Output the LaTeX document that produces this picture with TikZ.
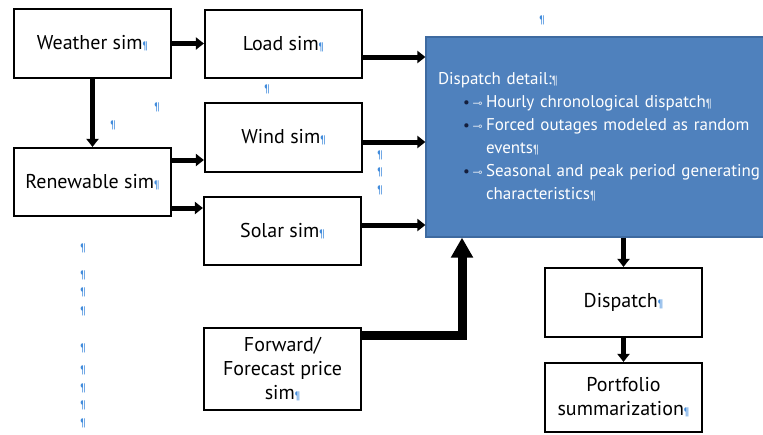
\documentclass[tikz,border=0pt]{standalone}
\usepackage{fontspec}
\setmainfont{PT Sans}
\newfontfamily\symfont{DejaVu Sans}
\usetikzlibrary{arrows.meta}
\definecolor{pilcrow}{RGB}{66,140,220}
\definecolor{panel}{RGB}{79,129,189}
\definecolor{panelline}{RGB}{62,106,160}
\definecolor{bulletdark}{RGB}{20,30,60}
\newcommand\pmark{\textcolor{pilcrow}{\fontsize{11}{11}\selectfont ¶}}
\newcommand\wmark{\textcolor{white!80!panel}{\fontsize{12}{12}\selectfont ¶}}
\newcommand\itemmark{\hspace*{25pt}\makebox[23pt][l]{\textcolor{bulletdark}{\fontsize{15}{15}\selectfont •}\,\textcolor{white!75!panel}{\symfont\fontsize{12}{12}\selectfont ⊸}}}
\begin{document}
\begin{tikzpicture}[x=1pt,y=-1pt,
  simbox/.style={draw, line width=2.2pt, fill=white, inner sep=0pt, align=center,
    font=\fontsize{20}{24}\selectfont},
  conn/.style={line width=5pt, -{Triangle[length=8pt,width=12pt]}},
  bigconn/.style={line width=9pt, -{Triangle[length=20pt,width=21pt]}},
  freemark/.style={inner sep=0pt, text=pilcrow, font=\fontsize{11}{11}\selectfont}]
\useasboundingbox (0,0) rectangle (763,434);

% simulation boxes
\node[simbox, minimum width=157, minimum height=69] (weather) at (92.5,43.5) {Weather sim\pmark};
\node[simbox, minimum width=157, minimum height=68] (load) at (283.5,44) {Load sim\pmark};
\node[simbox, minimum width=157, minimum height=69] (wind) at (283.5,137.5) {Wind sim\pmark};
\node[simbox, minimum width=157, minimum height=68] (renew) at (92.5,182) {Renewable sim\pmark};
\node[simbox, minimum width=157, minimum height=68] (solar) at (282.5,231) {Solar sim\pmark};
\node[simbox, minimum width=157, minimum height=82] (forward) at (282.5,369) {Forward/\\Forecast price\\sim\pmark};

% dispatch detail panel
\node[draw=panelline, line width=1.2pt, fill=panel, minimum width=349, minimum height=200,
  inner xsep=12pt, text width=325pt, align=left, text=white,
  font=\fontsize{17}{23}\selectfont] (panel) at (600.5,137)
  {Dispatch detail:\wmark\\
   \itemmark\mbox{Hourly chronological dispatch\wmark}\\
   \itemmark\mbox{Forced outages modeled as random}\\
   \hspace*{48pt}events\wmark\\
   \itemmark\mbox{Seasonal and peak period generating}\\
   \hspace*{48pt}characteristics\wmark};

\node[simbox, minimum width=157, minimum height=69] (dispatch) at (623.5,302.5) {Dispatch\pmark};
\node[simbox, minimum width=157, minimum height=69] (portfolio) at (623.5,397.5) {Portfolio\\summarization\pmark};

% connectors
\draw[conn] (weather.east) -- (weather.east -| load.west);
\draw[conn] (weather.south) -- (weather.south |- renew.north);

\coordinate (rw) at ([yshift=22pt]renew.east);
\coordinate (rs) at ([yshift=-26pt]renew.east);
\draw[conn] (rw) -- (rw -| wind.west);
\draw[conn] (rs) -- (rs -| solar.west);

\coordinate (lp) at ([yshift=-13pt]load.east);
\coordinate (wp) at ([yshift=-4.5pt]wind.east);
\coordinate (sp) at ([yshift=6pt]solar.east);
\draw[conn] (lp) -- (lp -| panel.west);
\draw[conn] (wp) -- (wp -| panel.west);
\draw[conn] (sp) -- (sp -| panel.west);

\coordinate (fturn) at (462,335);
\draw[bigconn] (forward.east |- fturn) -- (fturn) -- (fturn |- panel.south);

\draw[conn] (dispatch.north |- panel.south) -- (dispatch.north);
\draw[conn] (dispatch.south) -- (portfolio.north);

% stray paragraph marks
\foreach \px/\py [count=\i] in {267/89, 157/107, 113/125, 380/155, 380/172, 380/190, 542/20,
  83/248, 83/275, 83/292, 83/311, 83/348, 83/370, 83/388, 83/405, 83/423}
  \node[freemark] (pm\i) at (\px,\py) {¶};
\end{tikzpicture}
\end{document}
